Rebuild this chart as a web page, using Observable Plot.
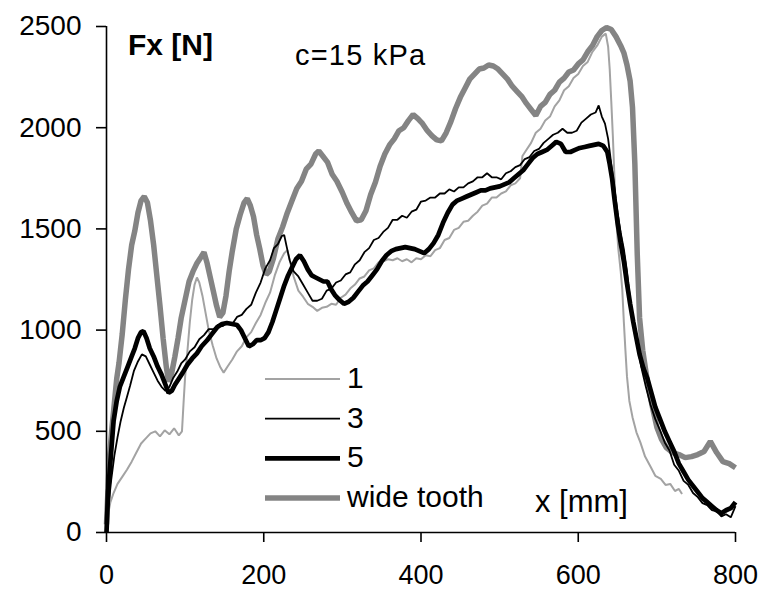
<!DOCTYPE html>
<html><head><meta charset="utf-8">
<script src="https://cdn.jsdelivr.net/npm/d3@7"></script>
<script src="https://cdn.jsdelivr.net/npm/@observablehq/plot@0.6"></script>
<style>body{margin:0;background:#fff}</style>
</head><body><div id="chart"></div>
<script>
const seriesNames = ["1", "3", "5", "wide tooth"];
const xTicks = [0, 200, 400, 600, 800];
const yTicks = [0, 500, 1000, 1500, 2000, 2500];
const yLabel = "Fx [N]";
const xLabel = "x [mm]";
const note = "c=15 kPa";

const s1X = [0,2,5,9,14,20,26,32,38,44,50,56,62,68,74,80,86,92,96,98,100,103,106,109,112,115,118,122,126,130,135,140,145,149,154,160,166,172,178,184,190,196,202,208,214,220,226,230,234,238,244,250,256,262,268,274,280,286,292,298,304,310,316,322,328,334,340,346,352,358,364,370,376,382,388,394,400,406,412,418,424,430,436,442,448,454,460,466,472,478,484,490,496,502,508,514,520,526,529,534,540,546,552,558,564,570,576,582,588,594,600,606,612,618,624,630,635,638,640,642,644,646,648,651,654,656,658,660,662,665,669,674,679,685,692,698,705,711,717,723,728,732];
const s1Y = [0,90,150,195,240,275,310,350,395,440,465,490,500,475,505,485,515,480,500,640,770,900,1040,1150,1225,1260,1235,1170,1085,1000,925,860,815,790,820,855,895,920,965,990,1035,1075,1135,1185,1270,1335,1380,1395,1330,1265,1195,1165,1130,1115,1095,1110,1115,1130,1125,1160,1175,1205,1225,1255,1265,1295,1305,1335,1340,1350,1345,1355,1340,1350,1335,1355,1350,1370,1365,1395,1405,1445,1455,1495,1505,1535,1540,1565,1585,1615,1625,1655,1655,1675,1685,1715,1725,1750,1860,1890,1925,1975,1995,2035,2055,2105,2135,2185,2205,2245,2265,2305,2325,2375,2405,2450,2465,2400,2290,2130,1960,1760,1560,1400,1290,1200,1040,900,770,650,570,495,445,375,325,280,265,235,240,205,215,190];

const s3X = [0,3,6,10,14,18,22,26,30,35,40,45,50,55,60,65,70,75,80,85,90,95,100,106,112,118,124,130,136,142,148,154,160,166,172,178,184,190,196,202,208,213,218,223,226,229,233,238,244,250,256,262,268,274,280,286,292,298,304,310,316,322,328,334,340,346,352,358,364,370,376,382,388,394,400,406,412,418,424,430,436,442,448,454,460,466,472,478,484,490,496,502,508,514,520,526,532,538,544,550,556,562,568,574,580,586,592,598,604,610,616,622,626,630,634,638,642,646,650,654,658,662,666,670,675,680,686,692,698,704,710,716,722,728,734,740,746,752,758,764,770,776,782,788,794,800];
const s3Y = [0,150,260,380,470,550,615,670,725,800,845,880,870,830,790,750,720,700,720,765,795,835,855,895,915,955,975,1005,1005,1025,1020,1040,1030,1065,1075,1105,1125,1185,1235,1305,1345,1405,1425,1465,1470,1415,1345,1290,1265,1225,1185,1145,1145,1155,1195,1205,1235,1245,1275,1285,1325,1345,1385,1405,1445,1455,1485,1505,1545,1545,1565,1555,1585,1595,1635,1640,1655,1655,1675,1675,1695,1685,1705,1705,1725,1735,1755,1755,1775,1755,1755,1745,1775,1785,1805,1815,1845,1855,1885,1895,1925,1945,1965,1975,1995,1975,1975,1985,2025,2045,2065,2075,2110,2055,2020,1945,1820,1700,1580,1480,1400,1290,1150,1050,930,820,720,630,560,505,445,405,335,305,255,235,195,175,145,135,110,105,80,90,75,130];

const s5X = [0,2,5,9,13,17,22,27,32,36,40,44,47,51,55,60,65,70,75,79,83,87,92,97,103,109,115,121,128,134,141,147,153,160,166,171,176,181,186,191,196,201,206,211,216,221,226,231,236,241,246,251,256,261,266,271,276,281,286,291,296,302,308,314,320,326,332,338,344,350,356,362,368,374,380,386,392,398,404,410,416,422,428,434,440,446,452,458,464,470,476,482,488,494,500,506,512,518,524,530,536,542,548,554,560,566,572,578,584,590,596,602,608,614,620,626,632,637,640,643,646,650,654,658,662,666,670,674,678,683,688,693,698,704,710,716,722,728,734,740,746,752,758,764,770,776,782,788,794,800];
const s5Y = [0,200,350,550,650,720,770,820,870,910,960,990,995,960,910,870,820,780,730,690,700,730,760,790,830,860,885,920,950,980,1015,1030,1035,1030,1025,1000,960,920,930,950,950,960,990,1040,1100,1160,1220,1270,1310,1350,1370,1340,1300,1270,1260,1250,1240,1240,1200,1170,1150,1130,1140,1160,1190,1220,1240,1270,1300,1340,1370,1390,1400,1405,1410,1405,1400,1390,1380,1400,1430,1470,1530,1580,1620,1640,1650,1660,1670,1680,1690,1690,1700,1705,1710,1720,1730,1750,1770,1790,1820,1850,1870,1880,1890,1910,1930,1920,1880,1880,1890,1900,1905,1910,1915,1920,1910,1880,1820,1750,1650,1530,1430,1340,1230,1130,1040,960,880,810,760,690,620,560,500,450,400,340,300,260,230,200,170,150,130,110,95,110,120,150];

const wX = [0,2,4,7,10,13,16,20,24,28,32,36,40,44,48,52,56,60,64,68,72,76,79,83,87,91,95,100,105,110,115,120,124,128,132,136,140,144,148,152,156,160,165,170,175,179,183,187,191,195,199,203,207,212,218,224,230,236,242,248,254,260,266,270,275,281,287,293,300,306,312,318,324,330,336,342,348,354,360,366,372,378,384,390,396,402,408,414,420,426,432,438,444,450,456,462,468,474,480,486,492,498,504,510,516,522,528,534,540,546,552,558,564,570,576,582,588,594,600,606,612,618,624,630,636,642,648,654,658,662,666,669,672,675,678,682,688,694,700,706,712,720,728,736,744,752,760,768,776,784,792,800];
const wY = [40,220,380,520,640,760,840,980,1150,1300,1420,1490,1580,1640,1660,1630,1540,1420,1270,1120,960,820,745,790,870,960,1060,1150,1240,1290,1330,1360,1385,1330,1260,1190,1120,1065,1085,1170,1290,1390,1500,1570,1630,1650,1615,1560,1470,1400,1320,1275,1290,1350,1450,1510,1580,1640,1700,1735,1795,1820,1870,1885,1860,1830,1770,1735,1680,1625,1580,1540,1545,1590,1670,1730,1810,1870,1915,1945,1985,2000,2035,2065,2045,2020,1985,1960,1940,1935,1975,2030,2095,2150,2195,2240,2265,2290,2295,2310,2305,2290,2265,2240,2205,2180,2155,2120,2090,2060,2105,2125,2165,2185,2225,2245,2275,2285,2315,2335,2375,2405,2450,2480,2495,2485,2450,2405,2370,2310,2230,2100,1820,1380,1060,900,745,625,520,460,420,395,385,370,375,385,400,450,395,350,340,320];

const seriesData = {
  "1": [s1X, s1Y],
  "3": [s3X, s3Y],
  "5": [s5X, s5Y],
  "wide tooth": [wX, wY]
};
const styleOf = {
  "1": {stroke: "#a3a3a3", width: 2},
  "3": {stroke: "#000000", width: 1.8},
  "5": {stroke: "#000000", width: 4.7},
  "wide tooth": {stroke: "#848484", width: 5.5}
};
const drawOrder = ["wide tooth", "1", "5", "3"];

const font = "'Liberation Sans', Arial, sans-serif";
const lineMarks = drawOrder.map(name => {
  const [xs, ys] = seriesData[name];
  const rows = xs.map((x, i) => ({x, y: ys[i]}));
  return Plot.line(rows, {x: "x", y: "y", stroke: styleOf[name].stroke, strokeWidth: styleOf[name].width, strokeLinejoin: "miter", strokeLinecap: "butt"});
});

const W = 767, H = 591, ML = 106, MR = 32, MT = 26, MB = 59;
const chart = Plot.plot({
  width: W, height: H,
  marginLeft: ML, marginRight: MR, marginTop: MT, marginBottom: MB,
  x: {domain: [0, 800]},
  y: {domain: [0, 2500]},
  style: {fontFamily: font, color: "#000", background: "#fff"},
  marks: [
    ...lineMarks,
    Plot.ruleX([0], {stroke: "#000", strokeWidth: 1.6}),
    Plot.ruleY([0], {stroke: "#000", strokeWidth: 1.6}),
    Plot.axisY({ticks: yTicks, tickSize: 10, tickPadding: 15, tickFormat: d => String(d), label: null, fontSize: 28, strokeWidth: 1.6, stroke: "#000", fill: "#000"}),
    Plot.axisX({ticks: xTicks, tickSize: 10, tickPadding: 22, tickFormat: d => String(d), label: null, fontSize: 27, strokeWidth: 1.6, stroke: "#000", fill: "#000"})
  ]
});
document.getElementById("chart").appendChild(chart);

const svg = d3.select(chart);
const g = svg.append("g").attr("font-family", font).attr("fill", "#000").attr("text-anchor", "start");
g.append("text").attr("x", 128).attr("y", 55).attr("font-size", 30).attr("font-weight", "bold").text(yLabel);
g.append("text").attr("x", 295).attr("y", 65).attr("font-size", 29).attr("letter-spacing", 1.2).text(note);
g.append("text").attr("x", 535).attr("y", 512).attr("font-size", 31).text(xLabel);

const legendY0 = 379, legendStep = 39.7;
seriesNames.forEach((name, i) => {
  const y = legendY0 + i * legendStep;
  g.append("line").attr("x1", 265).attr("x2", 340).attr("y1", y).attr("y2", y)
    .attr("stroke", styleOf[name].stroke).attr("stroke-width", styleOf[name].width);
  g.append("text").attr("x", 347).attr("y", y + 9).attr("font-size", 30).text(name);
});
</script>
</body></html>
